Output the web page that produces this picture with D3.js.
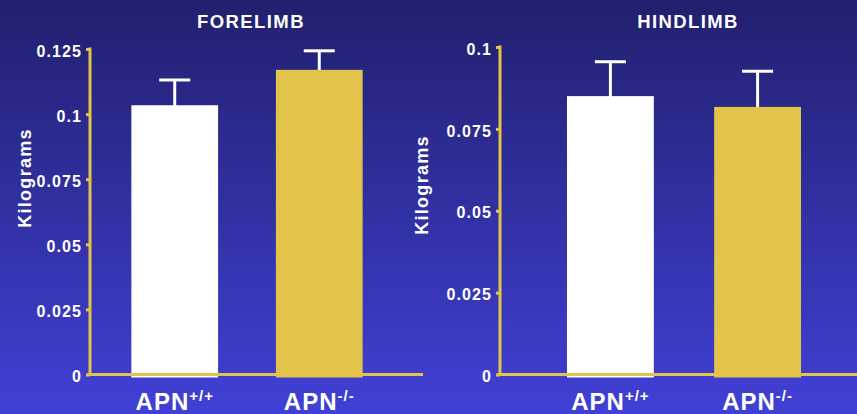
<!DOCTYPE html>
<html><head><meta charset="utf-8">
<script src="https://cdn.jsdelivr.net/npm/d3@7"></script>
<style>html,body{margin:0;padding:0;background:#2f2ea0;}svg{display:block;}</style>
</head><body>
<svg id="c" width="857" height="414"></svg>
<script>
const categories = ["APN+/+", "APN-/-"];
const catBase = ["APN", "APN"];
const catSup = ["+/+", "-/-"];
const foreValues = [0.1034, 0.1170];
const foreErrors = [0.0097, 0.0073];
const hindValues = [0.0850, 0.0817];
const hindErrors = [0.0105, 0.0109];
const foreTicks = [0, 0.025, 0.05, 0.075, 0.1, 0.125];
const foreTickLabels = ["0", "0.025", "0.05", "0.075", "0.1", "0.125"];
const hindTicks = [0, 0.025, 0.05, 0.075, 0.1];
const hindTickLabels = ["0", "0.025", "0.05", "0.075", "0.1"];
const titles = ["FORELIMB", "HINDLIMB"];
const yTitle = "Kilograms";

const GOLD = "#e2c44a";
const barColors = ["#ffffff", GOLD];
const FONT = "'Liberation Sans', Arial, Helvetica, sans-serif";

const svg = d3.select("#c");
const defs = svg.append("defs");
const grad = defs.append("linearGradient").attr("id", "bg").attr("x1", 0).attr("y1", 0).attr("x2", 0).attr("y2", 1);
grad.append("stop").attr("offset", "0%").attr("stop-color", "#21206e");
grad.append("stop").attr("offset", "100%").attr("stop-color", "#4140d6");
svg.append("rect").attr("width", 857).attr("height", 414).attr("fill", "url(#bg)");

const panels = [
  {values: foreValues, errors: foreErrors, ticks: foreTicks, labels: foreTickLabels, title: titles[0],
   yMax: 0.125, yTop: 49, y0: 374.5, axisX: 90, xRange: [88, 406], pi: 0.4, po: 0.3, xEnd: 423,
   titleX: 251, ytX: 25, ytY: 178},
  {values: hindValues, errors: hindErrors, ticks: hindTicks, labels: hindTickLabels, title: titles[1],
   yMax: 0.1, yTop: 47, y0: 374.5, axisX: 500, xRange: [500, 868], pi: 0.41, po: 0.455, xEnd: 857,
   titleX: 688, ytX: 422, ytY: 185}
];

panels.forEach(p => {
  const g = svg.append("g");
  const y = d3.scaleLinear().domain([0, p.yMax]).range([p.y0, p.yTop]);
  const x = d3.scaleBand().domain(categories).range(p.xRange).paddingInner(p.pi).paddingOuter(p.po);

  // title
  g.append("text").attr("x", p.titleX).attr("y", 27.5).attr("text-anchor", "middle")
    .attr("fill", "#fff").style("font", `bold 18.5px ${FONT}`).style("letter-spacing", "1.4px")
    .text(p.title);

  // y title
  g.append("text").attr("transform", `translate(${p.ytX},${p.ytY}) rotate(-90)`)
    .attr("text-anchor", "middle").attr("dy", "0.35em")
    .attr("fill", "#fff").style("font", `bold 18px ${FONT}`).style("letter-spacing", "1.3px")
    .text(yTitle);

  // error bars (behind bars)
  const eb = g.append("g").attr("stroke", "#fff").attr("stroke-width", 3).attr("fill", "none");
  categories.forEach((c, i) => {
    const cx = x(c) + x.bandwidth() / 2;
    const top = y(p.values[i] + p.errors[i]);
    eb.append("line").attr("x1", cx).attr("x2", cx).attr("y1", y(p.values[i]) + 1).attr("y2", top);
    eb.append("line").attr("x1", cx - 15.5).attr("x2", cx + 15.5).attr("y1", top).attr("y2", top);
  });

  // bars
  g.selectAll("rect.bar").data(categories).join("rect").attr("class", "bar")
    .attr("x", c => x(c)).attr("width", x.bandwidth())
    .attr("y", (c, i) => y(p.values[i]))
    .attr("height", (c, i) => y(0) + 3 - y(p.values[i]))
    .attr("fill", (c, i) => barColors[i]);

  // y axis
  const ax = d3.axisLeft(y).tickValues(p.ticks).tickSize(4).tickSizeOuter(0)
    .tickFormat((d, i) => p.labels[i]);
  const ag = g.append("g").attr("transform", `translate(${p.axisX},0)`).call(ax);
  ag.select(".domain").attr("stroke", GOLD).attr("stroke-width", 3)
    .attr("d", `M0,${p.yTop - 1.5}V${p.y0}`);
  ag.selectAll(".tick line").attr("stroke", GOLD).attr("stroke-width", 3);
  ag.selectAll(".tick text").attr("fill", "#fff").attr("x", -8).attr("dy", "0.45em")
    .style("font", `bold 16px ${FONT}`).style("letter-spacing", "1.1px");

  // x axis line
  g.append("line").attr("x1", p.axisX - 3).attr("x2", p.xEnd).attr("y1", p.y0).attr("y2", p.y0)
    .attr("stroke", GOLD).attr("stroke-width", 3);

  // x labels
  categories.forEach((c, i) => {
    const t = g.append("text").attr("x", x(c) + x.bandwidth() / 2).attr("y", 410)
      .attr("text-anchor", "middle").attr("fill", "#fff")
      .style("font", `bold 24px ${FONT}`).style("letter-spacing", "1px");
    t.append("tspan").text(catBase[i]);
    t.append("tspan").attr("dy", -9).style("font-size", "15px").text(catSup[i]);
  });
});
</script>
</body></html>
